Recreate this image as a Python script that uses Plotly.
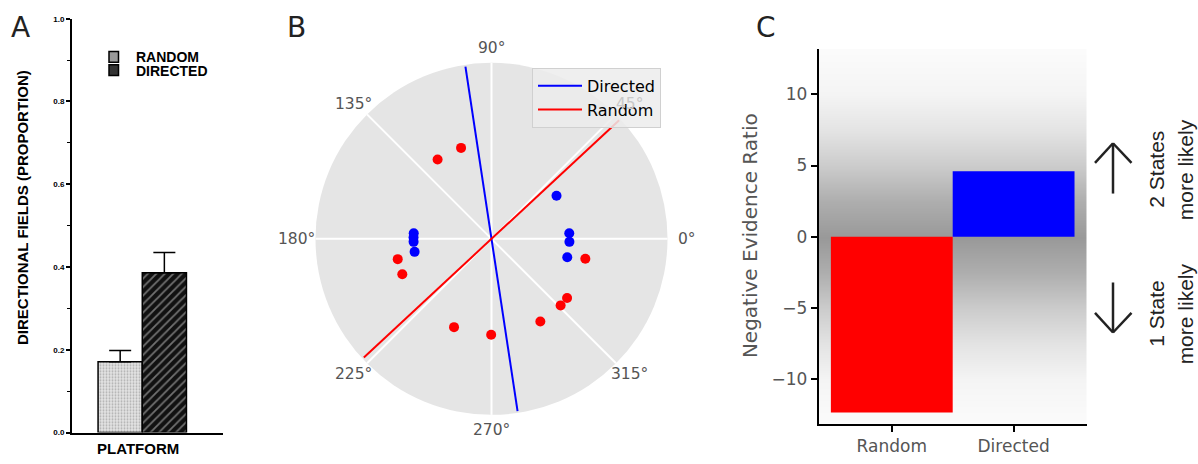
import math
import plotly.graph_objects as go

W, H = 1198, 464
def px(x): return x / W
def py(y): return 1 - y / H

# ---------------- Panel A data ----------------
a_groups = ["RANDOM", "DIRECTED"]
a_values = [0.171, 0.386]
a_errors = [0.027, 0.049]
a_yticks = [0.0, 0.2, 0.4, 0.6, 0.8, 1.0]

# ---------------- Panel B data ----------------
b_directed_theta = [33.5, 4.1, 357.8, 346.3, 175.9, 179.0, 182.2, 189.6]
b_directed_r = [0.443] * len(b_directed_theta)
b_random_theta = [108.5, 124.2, 192.2, 201.6, 247.0, 269.8, 300.6, 316.1, 322.0, 348.0]
b_random_r = [0.545] * len(b_random_theta)
b_directed_axis = 98.6   # mean direction (deg)
b_random_axis = 42.9
b_line_r = 0.99
b_angle_ticks = [0, 45, 90, 135, 180, 225, 270, 315]

# ---------------- Panel C data ----------------
c_categories = ["Random", "Directed"]
c_values = [-12.34, 4.6]
c_colors = ["#ff0000", "#0000ff"]
c_yticks = [-10, -5, 0, 5, 10]
c_yticklabels = ["\u221210", "\u22125", "0", "5", "10"]
grad_y = [-16, -13.2, -12.5, -10, -7.5, -5, -2.5, 0, 2.5, 5, 7.5, 10, 12.5, 13.2, 16]
grad_gray = [252, 251, 250, 244, 228, 204, 174, 153, 174, 204, 228, 244, 250, 251, 252]

fig = go.Figure()

# ----- Panel A bars -----
fig.add_trace(go.Bar(
    x=[0], y=[a_values[0]], width=1, xaxis="x", yaxis="y", showlegend=False,
    marker=dict(color="#e4e4e4", line=dict(color="black", width=1.5),
                pattern=dict(shape=".", fgcolor="#777", bgcolor="#e4e4e4", size=3, solidity=0.35)),
    error_y=dict(type="data", array=[a_errors[0]], arrayminus=[0], symmetric=False,
                 color="black", thickness=1.5, width=11),
))
fig.add_trace(go.Bar(
    x=[1], y=[a_values[1]], width=1, xaxis="x", yaxis="y", showlegend=False,
    marker=dict(color="#111", line=dict(color="black", width=1.5),
                pattern=dict(shape="/", fgcolor="#cfcfcf", bgcolor="#111", size=6, solidity=0.3)),
    error_y=dict(type="data", array=[a_errors[1]], arrayminus=[0], symmetric=False,
                 color="black", thickness=1.5, width=11),
))

# ----- Panel B polar -----
fig.add_trace(go.Scatterpolar(
    r=[b_line_r, 0, b_line_r], theta=[b_directed_axis + 180, b_directed_axis, b_directed_axis],
    mode="lines", line=dict(color="#0000ff", width=2), name="Directed", subplot="polar"))
fig.add_trace(go.Scatterpolar(
    r=[b_line_r, 0, b_line_r], theta=[b_random_axis + 180, b_random_axis, b_random_axis],
    mode="lines", line=dict(color="#ff0000", width=2), name="Random", subplot="polar"))
fig.add_trace(go.Scatterpolar(
    r=b_random_r, theta=b_random_theta, mode="markers", showlegend=False,
    marker=dict(color="#ff0000", size=10), subplot="polar"))
fig.add_trace(go.Scatterpolar(
    r=b_directed_r, theta=b_directed_theta, mode="markers", showlegend=False,
    marker=dict(color="#0000ff", size=10), subplot="polar"))

# ----- Panel C -----
fig.add_trace(go.Heatmap(
    x=[-2, 3], y=grad_y, z=[[g, g] for g in grad_gray], xaxis="x3", yaxis="y3",
    colorscale=[[0, "rgb(153,153,153)"], [1, "rgb(252,252,252)"]], zmin=153, zmax=252,
    zsmooth="best", showscale=False, hoverinfo="skip"))
fig.add_trace(go.Bar(
    x=[0, 1], y=c_values, width=1, xaxis="x3", yaxis="y3", showlegend=False,
    marker=dict(color=c_colors, line=dict(width=0))))

ax_font = dict(family="DejaVu Sans", color="#555")
POLAR_CX, POLAR_CY, POLAR_HALF = 491.5, 239.5, 179.5

fig.update_layout(
    width=W, height=H, margin=dict(l=0, r=0, t=0, b=0),
    paper_bgcolor="white", plot_bgcolor="white", barmode="overlay",
    showlegend=True,
    xaxis=dict(domain=[px(72), px(222.7)], range=[-1.09, 2.32], showline=True,
               linecolor="black", linewidth=2, showticklabels=False, ticks="",
               showgrid=False, zeroline=False, fixedrange=True),
    yaxis=dict(domain=[py(437), py(15)], range=[0, 1], showline=True, linecolor="black",
               linewidth=2, tickvals=a_yticks, ticktext=[f"{v:.1f}" for v in a_yticks],
               ticks="outside", ticklen=4, tickwidth=1.5, tickcolor="black",
               tickfont=dict(family="Liberation Sans", size=8, color="black", weight="bold"),
               minor=dict(dtick=0.1, ticks="outside", ticklen=3, tickcolor="black", tickwidth=1.2),
               showgrid=False, zeroline=False),
    polar=dict(
        domain=dict(x=[px(POLAR_CX - POLAR_HALF), px(POLAR_CX + POLAR_HALF)],
                    y=[py(POLAR_CY + POLAR_HALF), py(POLAR_CY - POLAR_HALF)]),
        bgcolor="#e5e5e5",
        radialaxis=dict(visible=False, range=[0, 1], showgrid=False),
        angularaxis=dict(tickvals=b_angle_ticks, showticklabels=False,
                         showline=False, ticks="", gridcolor="white", gridwidth=1.5,
                         direction="counterclockwise", rotation=0),
    ),
    legend=dict(x=px(532), y=py(65), xanchor="left", yanchor="top", itemwidth=44,
                bgcolor="rgba(236,236,236,0.85)", bordercolor="#d0d0d0", borderwidth=1,
                font=dict(family="DejaVu Sans", size=16, color="black")),
    xaxis3=dict(domain=[px(818.7), px(1086.7)], range=[-0.6, 1.6], anchor="y3",
                tickvals=[0, 1], ticktext=c_categories, showline=True, linecolor="black",
                linewidth=2, ticks="outside", ticklen=6, tickwidth=1.5, tickcolor="black",
                tickfont=dict(size=17, **ax_font), showgrid=False, zeroline=False),
    yaxis3=dict(domain=[py(428), py(46)], range=[-13.12, 13.17], anchor="x3",
                tickvals=c_yticks, ticktext=c_yticklabels, showline=True, linecolor="black",
                linewidth=2, ticks="outside", ticklen=6, tickwidth=1.5, tickcolor="black",
                tickfont=dict(size=17, **ax_font), showgrid=False, zeroline=False),
)

ann = []
# Panel letters
for letter, x in [("A", 20.5), ("B", 296.5), ("C", 766)]:
    ann.append(dict(text=letter, x=px(x), y=py(23.5), xref="paper", yref="paper",
                    showarrow=False, xanchor="center", yanchor="middle",
                    font=dict(family="DejaVu Sans", size=28, color="#222")))
# Panel A texts
ann.append(dict(text="DIRECTIONAL FIELDS (PROPORTION)", x=px(23), y=py(208), xref="paper",
                yref="paper", showarrow=False, textangle=-90, xanchor="center", yanchor="middle",
                font=dict(family="Liberation Sans", size=15, color="black", weight="bold")))
ann.append(dict(text="PLATFORM", x=px(138), y=py(453), xref="paper", yref="paper",
                showarrow=False, xanchor="center", yanchor="middle",
                font=dict(family="Liberation Sans", size=15, color="black", weight="bold")))
for name, yc in [(a_groups[0], 54.5), (a_groups[1], 68.5)]:
    ann.append(dict(text=name, x=px(134), y=py(yc), xref="paper", yref="paper",
                    showarrow=False, xanchor="left", yanchor="middle",
                    font=dict(family="Liberation Sans", size=14, color="black", weight="bold")))
# Panel B angular labels (centred outside the circle, matplotlib style)
label_radius = 195
for t in b_angle_ticks:
    a = math.radians(t)
    # the 45° label sits behind the semi-transparent legend in the reference
    col = "#c8c8c8" if t == 45 else "#555"
    ann.append(dict(text=f"{t}\u00b0", x=px(POLAR_CX + label_radius * math.cos(a)),
                    y=py(POLAR_CY - label_radius * math.sin(a)), xref="paper", yref="paper",
                    showarrow=False, xanchor="center", yanchor="middle",
                    font=dict(family="DejaVu Sans", size=15.5, color=col)))
# Panel C texts
ann.append(dict(text="Negative Evidence Ratio", x=px(750), y=py(236.7), xref="paper",
                yref="paper", showarrow=False, textangle=-90, xanchor="center", yanchor="middle",
                font=dict(family="DejaVu Sans", size=20, color="#555")))
side_texts = [("2 States", 1157, 169), ("more likely", 1185.5, 169),
              ("1 State", 1157, 316), ("more likely", 1185.5, 316)]
for t, x, y in side_texts:
    ann.append(dict(text=t, x=px(x), y=py(y), xref="paper", yref="paper", showarrow=False,
                    textangle=-90, xanchor="center", yanchor="middle",
                    font=dict(family="Liberation Sans", size=21, color="#222")))

shapes = []
# Panel A legend boxes
shapes.append(dict(type="rect", xref="paper", yref="paper", x0=px(109), x1=px(118.5),
                   y0=py(59.5), y1=py(48.5), fillcolor="#9a9a9a", line=dict(color="black", width=1.5)))
shapes.append(dict(type="rect", xref="paper", yref="paper", x0=px(109), x1=px(118.5),
                   y0=py(73), y1=py(62), fillcolor="#333", line=dict(color="black", width=1.5)))
# Panel C arrows
arrow_line = dict(color="#222", width=2.5)
def seg(x0, y0, x1, y1):
    return dict(type="line", xref="paper", yref="paper", x0=px(x0), y0=py(y0),
                x1=px(x1), y1=py(y1), line=arrow_line)
shapes += [seg(1113, 193.3, 1113, 142), seg(1113, 142, 1095, 162), seg(1113, 142, 1131.5, 162),
           seg(1113, 284, 1113, 335), seg(1113, 335, 1095, 315), seg(1113, 335, 1131.5, 315)]

fig.update_layout(annotations=ann, shapes=shapes)
fig.write_html("out.html", config={"displayModeBar": False},
               post_script="document.body.style.margin='0';document.body.style.overflow='hidden';")
